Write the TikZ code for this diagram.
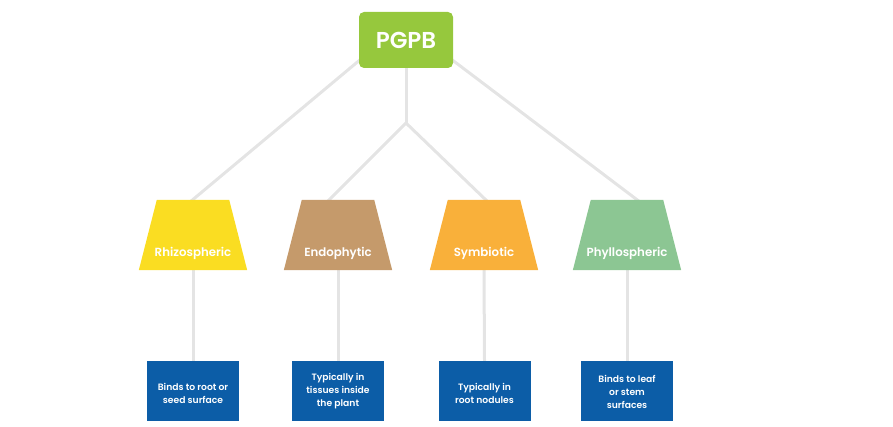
\documentclass[tikz,border=0pt]{standalone}
\usepackage{fontspec}
\setmainfont{Poppins SemiBold}
\usetikzlibrary{calc}
\pgfdeclarelayer{bg}
\pgfsetlayers{bg,main}
\definecolor{lineg}{HTML}{E4E4E4}
\definecolor{pgpbg}{HTML}{96C83D}
\definecolor{cyel}{HTML}{FADD22}
\definecolor{ctan}{HTML}{C59A6B}
\definecolor{corg}{HTML}{F9B03A}
\definecolor{cgrn}{HTML}{8CC693}
\definecolor{cblue}{HTML}{0C5DA7}
\newcommand{\trapfill}[2]{\fill[#2] (#1.south west) -- (#1.south east) -- ($(#1.north east)+(-18,0)$) -- ($(#1.north west)+(18,0)$) -- cycle;}
\begin{document}
\begin{tikzpicture}[x=1pt,y=-1pt,
  conn/.style={draw=lineg,line width=3pt},
  rootbox/.style={fill=pgpbg,rounded corners=5pt,minimum width=94pt,minimum height=56pt,inner sep=0pt,text=white,font=\fontsize{23}{26}\selectfont},
  trapbox/.style={minimum width=108pt,minimum height=70pt,inner sep=0pt},
  traplbl/.style={text=white,font=\fontsize{11.8}{14}\selectfont,inner sep=0pt},
  descbox/.style={fill=cblue,minimum width=92pt,minimum height=60pt,inner sep=0pt},
  desctext/.style={text=white,align=center,inner sep=0pt,font=\fontsize{9.2}{13}\selectfont}]
\useasboundingbox (0,0) rectangle (893,427);
\node[rootbox] (pgpb) at (406,40) {PGPB};
\node[trapbox] (t1) at (193,235) {};
\node[trapbox] (t2) at (338,235) {};
\node[trapbox] (t3) at (484,235) {};
\node[trapbox] (t4) at (627,235) {};
\trapfill{t1}{cyel}
\trapfill{t2}{ctan}
\trapfill{t3}{corg}
\trapfill{t4}{cgrn}
\node[traplbl] (l1) at (193,253) {Rhizospheric};
\node[traplbl] (l2) at (338,253) {Endophytic};
\node[traplbl] (l3) at (484,253) {Symbiotic};
\node[traplbl] (l4) at (627,253) {Phyllospheric};
\node[descbox] (b1) at (193,391) {};
\node[descbox] (b2) at (338,391) {};
\node[descbox] (b3) at (484.5,391) {};
\node[descbox] (b4) at (627,391) {};
\node[desctext] (d1) at (193,393.5) {Binds to root or\\seed surface};
\node[desctext] (d2) at (338,391.5) {Typically in\\tissues inside\\the plant};
\node[desctext] (d3) at (484.5,393.5) {Typically in\\root nodules};
\node[desctext] (d4) at (627,391.5) {Binds to leaf\\or stem\\surfaces};
\coordinate (j) at (406,123);
\coordinate (pl) at (361,59);
\coordinate (pr) at (451,59);
\coordinate (e1) at (190,202);
\coordinate (e2) at (327,202);
\coordinate (e3) at (488,202);
\coordinate (e4) at (640,202);
\begin{pgfonlayer}{bg}
\draw[conn] (pl) -- (e1);
\draw[conn] (pr) -- (e4);
\draw[conn] (pgpb.south) -- (j);
\draw[conn] (j) -- (e2);
\draw[conn] (j) -- (e3);
\draw[conn] (t1.south) -- (b1.north);
\draw[conn] (t2.south) -- (b2.north);
\draw[conn] (t3.south) -- (b3.north);
\draw[conn] (t4.south) -- (b4.north);
\end{pgfonlayer}
\end{tikzpicture}
\end{document}
